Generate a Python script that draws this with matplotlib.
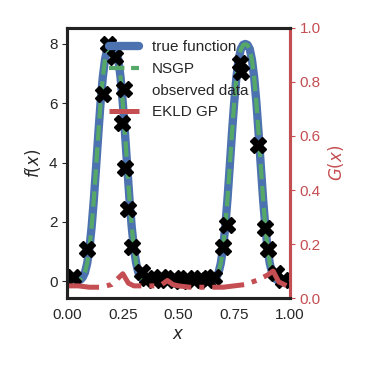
import numpy as np
import matplotlib
matplotlib.use("Agg")
import matplotlib.pyplot as plt
import seaborn as sns

# true function sampled on a grid of 0.01
x_grid = np.round(np.arange(0, 1.001, 0.01), 2)
f_true = [
    0.00, 0.00, 0.00, 0.00, 0.01, 0.02, 0.05, 0.13, 0.29, 0.60,
    1.10, 1.83, 2.76, 3.85, 4.97, 6.01, 6.87, 7.47, 7.83, 7.97,
    8.00, 7.97, 7.83, 7.47, 6.87, 6.01, 4.97, 3.85, 2.76, 1.83,
    1.10, 0.60, 0.29, 0.13, 0.05, 0.02, 0.01, 0.00, 0.00, 0.00,
    0.00, 0.00, 0.00, 0.00, 0.00, 0.00, 0.00, 0.00, 0.00, 0.00,
    0.00, 0.00, 0.00, 0.00, 0.00, 0.00, 0.00, 0.00, 0.00, 0.00,
    0.00, 0.00, 0.00, 0.00, 0.01, 0.02, 0.05, 0.13, 0.29, 0.60,
    1.10, 1.83, 2.76, 3.85, 4.97, 6.01, 6.87, 7.47, 7.83, 7.97,
    8.00, 7.97, 7.83, 7.47, 6.87, 6.01, 4.97, 3.85, 2.76, 1.83,
    1.10, 0.60, 0.29, 0.13, 0.05, 0.02, 0.01, 0.00, 0.00, 0.00,
    0.00,
]
nsgp_mean = [
    0.01, 0.01, 0.00, 0.00, 0.01, 0.02, 0.06, 0.14, 0.30, 0.61,
    1.11, 1.84, 2.77, 3.85, 4.96, 6.00, 6.86, 7.46, 7.82, 7.96,
    7.99, 7.96, 7.82, 7.46, 6.86, 6.00, 4.97, 3.85, 2.77, 1.84,
    1.11, 0.61, 0.30, 0.14, 0.06, 0.02, 0.01, 0.01, 0.00, 0.00,
    0.00, 0.00, 0.00, 0.00, 0.00, 0.00, 0.00, 0.00, 0.00, 0.00,
    0.00, 0.00, 0.00, 0.00, 0.00, 0.00, 0.00, 0.00, 0.00, 0.00,
    0.00, 0.00, 0.00, 0.01, 0.01, 0.02, 0.06, 0.14, 0.30, 0.61,
    1.11, 1.84, 2.77, 3.85, 4.96, 6.00, 6.86, 7.46, 7.82, 7.96,
    7.99, 7.96, 7.82, 7.46, 6.86, 6.00, 4.97, 3.85, 2.77, 1.84,
    1.11, 0.61, 0.30, 0.14, 0.06, 0.02, 0.01, 0.01, 0.00, 0.00,
    0.00,
]

# noisy observations
x_obs = [0.025, 0.09, 0.16, 0.185, 0.215, 0.247, 0.26, 0.275, 0.29, 0.335,
         0.36, 0.39, 0.42, 0.45, 0.48, 0.51, 0.54, 0.57, 0.60, 0.63, 0.66,
         0.70, 0.717, 0.775, 0.78, 0.857, 0.888, 0.90, 0.94, 0.97]
f_obs = [0.15, 1.10, 6.30, 8.00, 7.55, 5.35, 3.80, 2.45, 1.15, 0.30,
         0.10, 0.05, 0.15, 0.05, 0.10, 0.00, 0.10, 0.05, 0.10, 0.05, 0.15,
         1.15, 1.90, 7.35, 7.05, 4.60, 1.80, 1.10, 0.27, 0.05]

# EKLD GP, right axis
x_g = [0.0, 0.05, 0.10, 0.15, 0.20, 0.225, 0.25, 0.275, 0.30, 0.35, 0.40,
       0.425, 0.45, 0.475, 0.50, 0.55, 0.60, 0.65, 0.70, 0.75, 0.80, 0.85,
       0.90, 0.925, 0.95, 1.0]
g_ekld = [0.045, 0.045, 0.040, 0.040, 0.050, 0.070, 0.090, 0.055, 0.045,
          0.045, 0.045, 0.050, 0.065, 0.050, 0.045, 0.040, 0.040, 0.040,
          0.040, 0.045, 0.050, 0.065, 0.085, 0.100, 0.060, 0.040]

sns.set_style("white")
plt.rcParams["font.family"] = ["Liberation Sans", "DejaVu Sans"]
plt.rcParams["mathtext.fontset"] = "dejavusans"

blue, green, red = "#4C72B0", "#55A868", "#C44E52"

fig = plt.figure(figsize=(3.73, 3.73), dpi=100)
ax = fig.add_axes([0.18, 0.201, 0.597, 0.724])
ax2 = ax.twinx()

l1, = ax.plot(x_grid, f_true, color=blue, lw=6, solid_capstyle="round",
              label="true function")
l2, = ax.plot(x_grid, nsgp_mean, color=green, lw=3, ls="--",
              label="NSGP")
l3, = ax.plot(x_obs, f_obs, "X", color="k", ms=11, ls="none",
              label="observed data")
l4, = ax2.plot(x_g, g_ekld, color=red, lw=3.6, ls="-.", label="EKLD GP")

ax.set_xlim(0, 1)
ax.set_ylim(-0.57, 8.54)
ax.set_xticks([0, 0.25, 0.5, 0.75, 1.0])
ax.set_xticklabels(["0.00", "0.25", "0.50", "0.75", "1.00"])
ax.set_yticks([0, 2, 4, 6, 8])
ax.set_xlabel("$x$", fontsize=12)
ax.set_ylabel("$f(x)$", fontsize=12)
ax.tick_params(labelsize=11)

ax2.set_ylim(0, 1)
ax2.set_yticks([0, 0.2, 0.4, 0.6, 0.8, 1.0])
ax2.set_yticklabels(["0.0", "0.2", "0.4", "0.6", "0.8", "1.0"])
ax2.set_ylabel("$G(x)$", color=red, fontsize=12)
ax2.tick_params(axis="y", colors=red, labelsize=11)

for a in (ax, ax2):
    for s in a.spines.values():
        s.set_linewidth(2.2)
        s.set_color("#222222")
ax2.spines["right"].set_color(red)

ax2.legend([l1, l2, l3, l4], ["true function", "NSGP", "observed data", "EKLD GP"],
           loc="upper left", bbox_to_anchor=(0.125, 1.005), frameon=False,
           fontsize=11)

fig.savefig("out.png", dpi=100)
